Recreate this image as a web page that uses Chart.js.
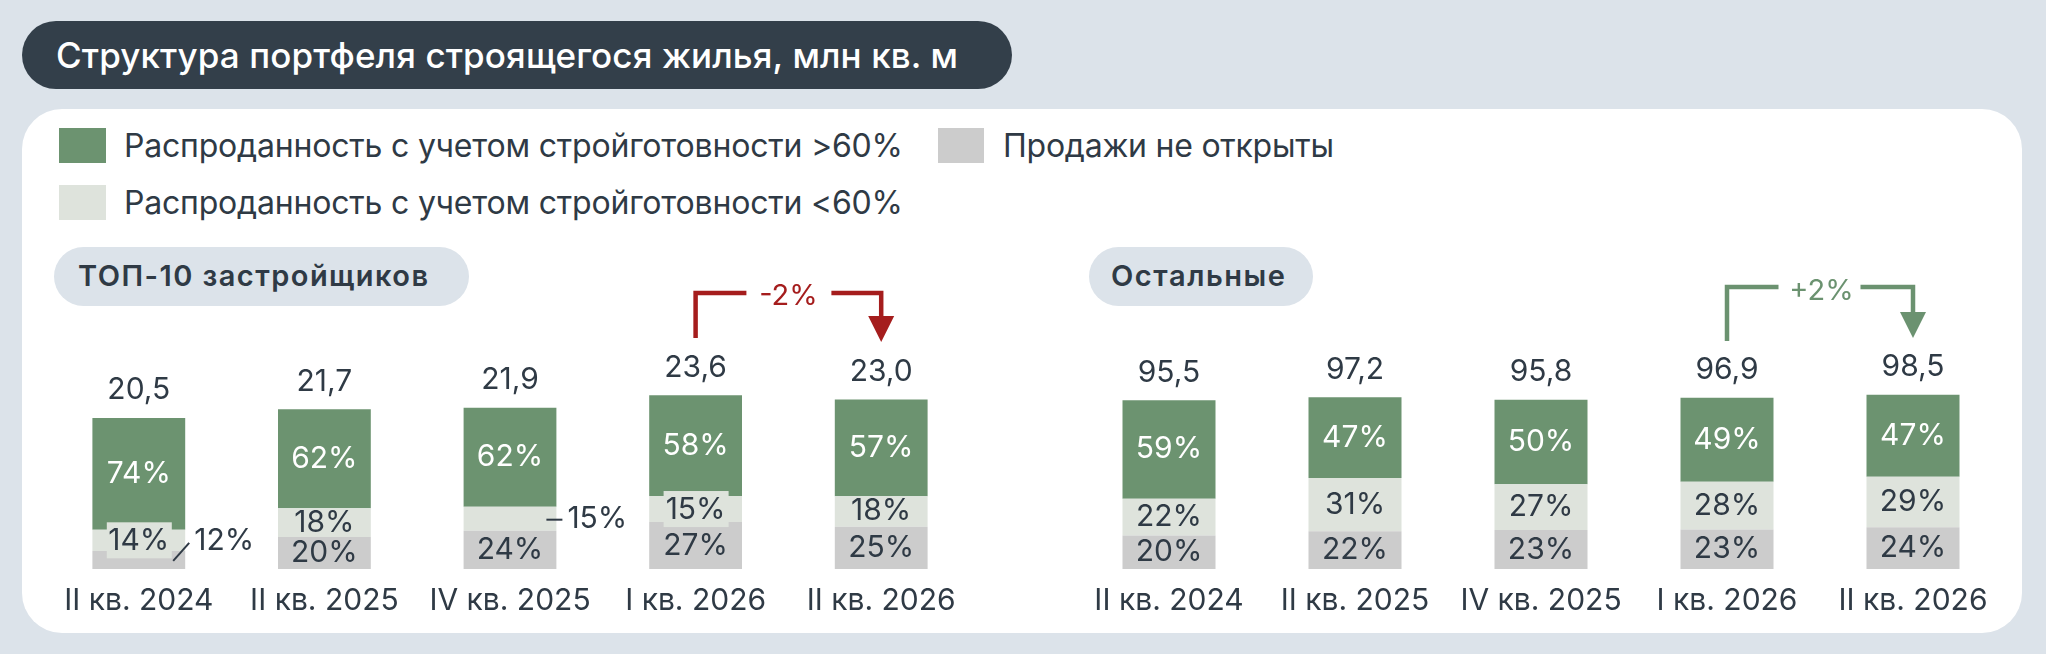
<!DOCTYPE html>
<html><head><meta charset="utf-8">
<script src="https://cdn.jsdelivr.net/npm/chart.js@4.4.1/dist/chart.umd.min.js"></script>
<style>
html,body{margin:0;padding:0;}
body{width:2046px;height:654px;background:#dce3ea;position:relative;overflow:hidden;font-family:Inter,sans-serif;color:#2f3a45;}
.abs{position:absolute;}
#title{left:22px;top:21px;width:990px;height:68px;border-radius:34px;background:#333f4a;}
#titleText{left:56px;top:21px;height:68px;line-height:68px;color:#fff;font-size:35px;font-weight:500;white-space:nowrap;}
#panel{left:22px;top:109px;width:2000px;height:524px;border-radius:40px;background:#fff;}
.sq{position:absolute;width:47px;height:35px;}
.lt{position:absolute;white-space:nowrap;font-size:32px;line-height:40px;height:40px;}
.pill{position:absolute;background:#dce3ea;height:59px;border-radius:30px;top:247px;}
.pt{position:absolute;white-space:nowrap;font-size:29px;font-weight:600;line-height:59px;height:59px;top:246px;}
canvas{position:absolute;}
</style></head>
<body>
<div id="title" class="abs"></div>
<div id="titleText" class="abs fit" data-w="902">Структура портфеля строящегося жилья, млн кв. м</div>
<div id="panel" class="abs"></div>

<div class="sq" style="left:59px;top:128px;background:#6c9370"></div>
<div class="lt fit" data-w="779" style="left:124px;top:126px">Распроданность с учетом стройготовности &gt;60%</div>
<div class="sq" style="left:59px;top:185px;background:#dee3dc"></div>
<div class="lt fit" data-w="779" style="left:124px;top:183px">Распроданность с учетом стройготовности &lt;60%</div>
<div class="sq" style="left:938px;top:128px;width:46px;background:#cccccc"></div>
<div class="lt fit" data-w="331" style="left:1003px;top:126px">Продажи не открыты</div>

<div class="pill" style="left:54px;width:415px"></div>
<div class="pt fit" data-w="350" style="left:78px">ТОП-10 застройщиков</div>
<div class="pill" style="left:1089px;width:224px"></div>
<div class="pt fit" data-w="174" style="left:1111px">Остальные</div>

<canvas id="cTop" width="928" height="363" style="left:46px;top:270px"></canvas>
<canvas id="cOther" width="930" height="363" style="left:1076px;top:270px"></canvas>

<script>
// ---- data ----
const categories = ['II кв. 2024', 'II кв. 2025', 'IV кв. 2025', 'I кв. 2026', 'II кв. 2026'];
const seriesNames = ['Продажи не открыты', 'Распроданность с учетом стройготовности <60%', 'Распроданность с учетом стройготовности >60%'];
const topTotals = [20.5, 21.7, 21.9, 23.6, 23.0];
const topNotOpened = [12, 20, 24, 27, 25];
const topBelow60 = [14, 18, 15, 15, 18];
const topAbove60 = [74, 62, 62, 58, 57];
const otherTotals = [95.5, 97.2, 95.8, 96.9, 98.5];
const otherNotOpened = [20, 22, 23, 23, 24];
const otherBelow60 = [22, 31, 27, 28, 29];
const otherAbove60 = [59, 47, 50, 49, 47];
const topChange = '-2%';
const otherChange = '+2%';

// ---- styles ----
const DARK = '#2f3a45';
const COLORS = ['#cccccc', '#dee3dc', '#6c9370'];
const LABEL_COLORS = [DARK, DARK, '#ffffff'];
const FONT = 'Inter, sans-serif';

document.querySelectorAll('.fit').forEach(el => {
  const target = +el.dataset.w;
  const w = el.getBoundingClientRect().width;
  const n = el.textContent.length;
  el.style.letterSpacing = ((target - w) / Math.max(1, n - 1)) + 'px';
});

function fmt(v) { return v.toFixed(1).replace('.', ','); }

const segLabels = {
  id: 'segLabels',
  afterDatasetsDraw(chart) {
    const cfg = chart.options.plugins.segLabels;
    const ctx = chart.ctx;
    ctx.save();
    ctx.textAlign = 'center';
    ctx.textBaseline = 'middle';
    ctx.font = '400 30px ' + FONT;
    chart.data.datasets.forEach((ds, di) => {
      const meta = chart.getDatasetMeta(di);
      meta.data.forEach((bar, i) => {
        const text = cfg.pcts[di][i] + '%';
        const cy = (bar.y + bar.base) / 2;
        const R = bar.x + bar.width / 2;
        const sp = cfg.special[di + '-' + i];
        if (sp === 'box') {
          ctx.fillStyle = COLORS[di];
          ctx.fillRect(bar.x - 32, cy - 18, 65, 36);
          ctx.fillStyle = LABEL_COLORS[di];
          ctx.fillText(text, bar.x, cy + 1);
        } else if (sp === 'slash') {
          const ty = bar.y - 10;
          ctx.strokeStyle = DARK; ctx.lineWidth = 2;
          ctx.beginPath(); ctx.moveTo(R - 12, cy + 1); ctx.lineTo(R + 4, ty + 2); ctx.stroke();
          ctx.fillStyle = DARK; ctx.textAlign = 'left';
          ctx.fillText(text, R + 9, ty);
          ctx.textAlign = 'center';
        } else if (sp === 'dash') {
          ctx.strokeStyle = DARK; ctx.lineWidth = 2;
          ctx.beginPath(); ctx.moveTo(R - 10, cy + 1); ctx.lineTo(R + 6, cy + 1); ctx.stroke();
          ctx.fillStyle = DARK; ctx.textAlign = 'left';
          ctx.fillText(text, R + 11, cy);
          ctx.textAlign = 'center';
        } else {
          ctx.fillStyle = LABEL_COLORS[di];
          ctx.fillText(text, bar.x, cy);
        }
      });
    });
    // totals
    const last = chart.getDatasetMeta(chart.data.datasets.length - 1);
    ctx.fillStyle = DARK;
    last.data.forEach((bar, i) => {
      ctx.fillText(fmt(cfg.totals[i]), bar.x, bar.y - 27.5);
    });
    // change arrow
    const a = cfg.arrow;
    const xs = chart.scales.x;
    const x1 = xs.getPixelForValue(a.from), x2 = xs.getPixelForValue(a.to);
    const top = chart.chartArea.top;
    const yTop = top + a.top, yBot = top + a.bottom, yTip = top + a.tip;
    const mid = (x1 + x2) / 2 + a.shift;
    ctx.strokeStyle = a.color; ctx.fillStyle = a.color; ctx.lineWidth = 4.5;
    ctx.lineCap = 'butt'; ctx.lineJoin = 'miter';
    ctx.beginPath();
    ctx.moveTo(x1, yBot); ctx.lineTo(x1, yTop); ctx.lineTo(mid - a.gapL, yTop);
    ctx.moveTo(mid + a.gapR, yTop); ctx.lineTo(x2, yTop); ctx.lineTo(x2, yTip - 24);
    ctx.stroke();
    ctx.beginPath();
    ctx.moveTo(x2 - 13, yTip - 26); ctx.lineTo(x2 + 13, yTip - 26); ctx.lineTo(x2, yTip); ctx.closePath();
    ctx.fill();
    ctx.font = '400 29px ' + FONT;
    ctx.fillText(a.label, mid, yTop + a.textDy);
    ctx.restore();
  }
};

function makeChart(id, totals, pcts, yMax, special, arrow) {
  const sums = totals.map((t, i) => pcts[0][i] + pcts[1][i] + pcts[2][i]);
  const datasets = pcts.map((arr, di) => ({
    label: seriesNames[di],
    data: arr.map((p, i) => totals[i] * p / sums[i]),
    backgroundColor: COLORS[di],
    borderWidth: 0,
    barPercentage: 0.5,
    categoryPercentage: 1
  }));
  return new Chart(document.getElementById(id), {
    type: 'bar',
    data: { labels: categories, datasets },
    options: {
      responsive: false, animation: false, devicePixelRatio: 1,
      layout: { padding: { top: 78, left: 0, right: 0, bottom: 0 } },
      plugins: {
        legend: { display: false }, tooltip: { enabled: false },
        segLabels: { totals, pcts, special, arrow }
      },
      scales: {
        x: {
          stacked: true,
          grid: { display: false, drawTicks: false },
          border: { display: false },
          ticks: { color: DARK, font: { family: FONT, size: 30 }, padding: 14, maxRotation: 0, autoSkip: false }
        },
        y: { stacked: true, display: false, min: 0, max: yMax }
      }
    },
    plugins: [segLabels]
  });
}

makeChart('cTop', topTotals, [topNotOpened, topBelow60, topAbove60], 30,
  { '1-0': 'box', '0-0': 'slash', '1-2': 'dash', '1-3': 'box' },
  { from: 3, to: 4, label: topChange, color: '#a51d1d', top: -55, bottom: -10, tip: -6, shift: 0, gapL: 42, gapR: 43, textDy: 3 });
makeChart('cOther', otherTotals, [otherNotOpened, otherBelow60, otherAbove60], 125,
  {},
  { from: 3, to: 4, label: otherChange, color: '#6b9270', top: -61, bottom: -7, tip: -10, shift: 1.5, gapL: 43, gapR: 39, textDy: 4 });
</script>
</body></html>
